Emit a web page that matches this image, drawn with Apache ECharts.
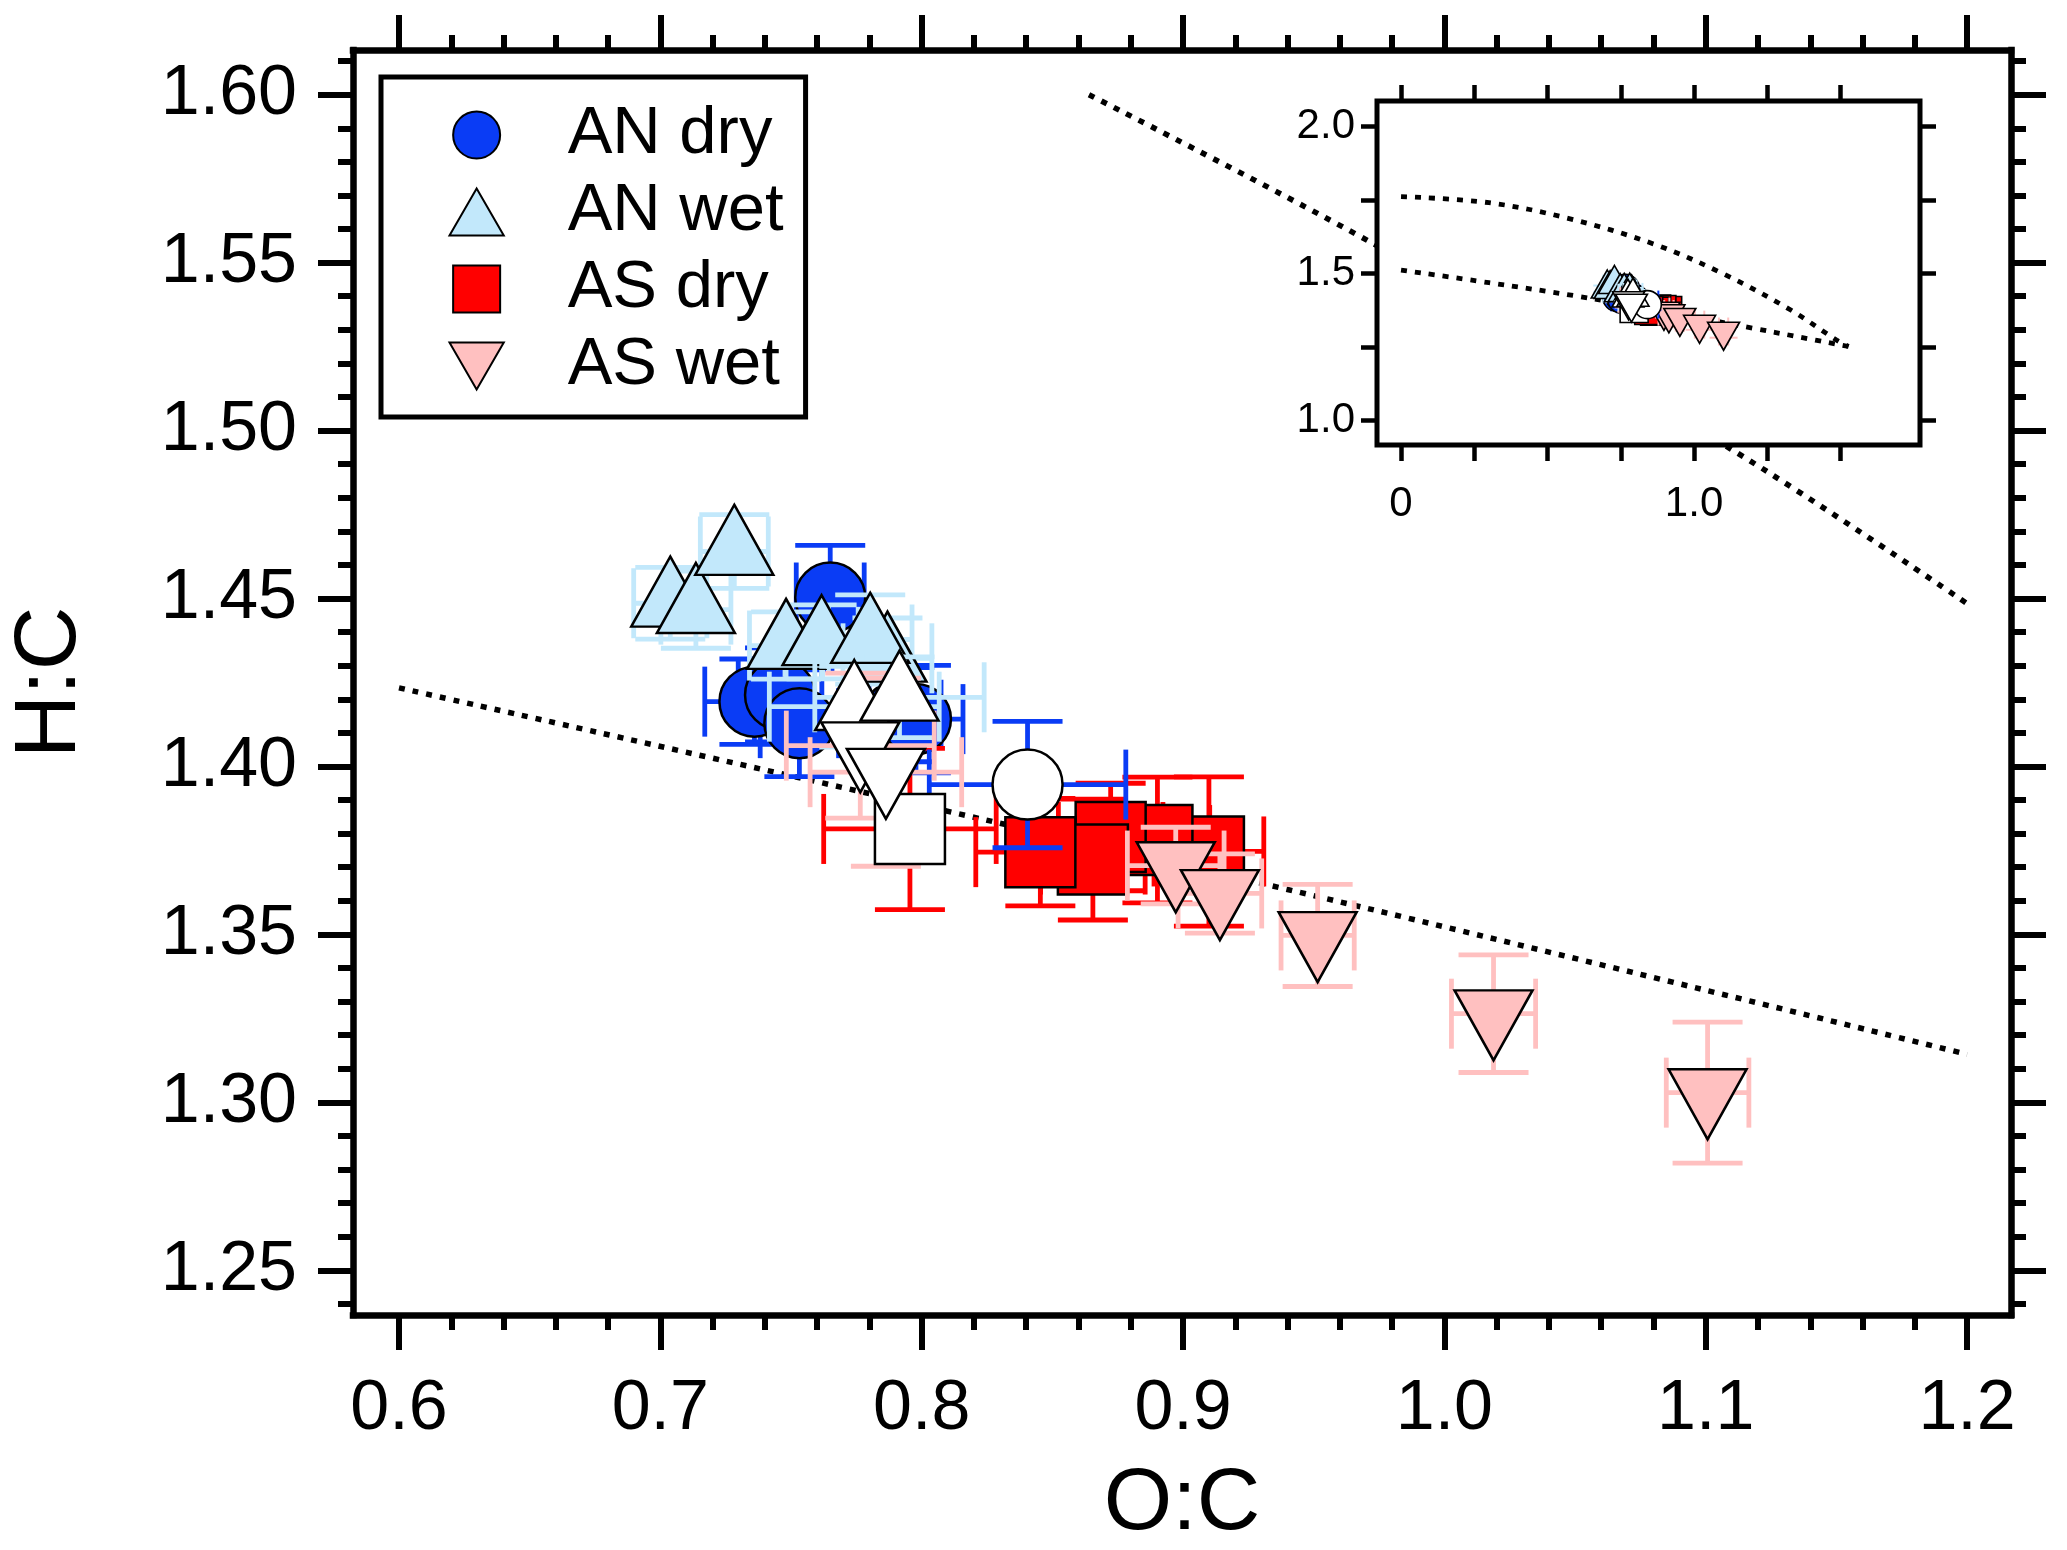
<!DOCTYPE html>
<html><head><meta charset="utf-8">
<script src="https://cdn.jsdelivr.net/npm/echarts@6/dist/echarts.min.js"></script>
<style>html,body{margin:0;padding:0;background:#fff}#c{width:2067px;height:1550px}</style>
</head><body><div id="c"></div>
<script>
// each point: [O:C, H:C, O:C error, H:C error]
const anDry = [[0.7360,1.4193,0.019,0.0127],[0.7458,1.4213,0.016,0.014],[0.7532,1.4129,0.015,0.0159],[0.7650,1.4503,0.013,0.0155],[0.7914,1.4154,0.016,0.014],[0.7978,1.4141,0.018,0.016]];
const anWet = [[0.7038,1.4486,0.014,0.0107],[0.7136,1.4467,0.0134,0.0115],[0.7283,1.4640,0.013,0.011],[0.7481,1.4360,0.014,0.010],[0.7617,1.4371,0.014,0.011],[0.7869,1.4322,0.017,0.012],[0.7803,1.4378,0.016,0.0133]];
const asDry = [[0.9099,1.3747,0.021,0.0222],[0.8902,1.3781,0.02,0.0187],[0.8723,1.3790,0.02,0.016],[0.8655,1.3723,0.02,0.018],[0.8454,1.3745,0.0247,0.016]];
const asWet = [[0.8972,1.3705,0.0185,0.0114],[0.9141,1.3622,0.016,0.0118],[0.9515,1.3497,0.014,0.0152],[1.0188,1.3264,0.0161,0.0175],[1.1007,1.3029,0.0158,0.021]];
// open (white) markers
const anDryOpen = [[0.8405,1.3946,0.0376,0.0188]];
const anWetOpen = [[0.7742,1.4178,0.0325,0.012],[0.7915,1.4206,0.0324,0.012]];
const asDryOpen = [[0.7955,1.3814,0.033,0.024]];
const asWetOpen = [[0.7765,1.4062,0.0283,0.0216],[0.7863,1.3983,0.029,0.028]];
// dotted reference curves
const mainLower = [[0.6,1.4234],[0.93,1.3652],[1.2,1.3143]];
const mainUpper = [[0.864,1.600],[0.972,1.556],[1.109,1.4948],[1.2,1.4485]];
const insetUpper = [[0,1.762],[0.3,1.741],[0.57,1.688],[0.864,1.600],[1.109,1.4948],[1.33,1.376],[1.486,1.274],[1.527,1.252]];
const insetLower = [[0,1.512],[0.3,1.469],[0.6,1.4234],[0.93,1.3652],[1.2,1.3143],[1.35,1.286],[1.527,1.252]];
// ticks
const xMajor = [0.6,0.7,0.8,0.9,1.0,1.1,1.2];
const yMajor = [1.25,1.30,1.35,1.40,1.45,1.50,1.55,1.60];
const insetXTicks = [0,0.25,0.5,0.75,1.0,1.25,1.5];
const insetXLabels = [0,1.0];
const insetYTicks = [1.0,1.25,1.5,1.75,2.0];
const insetYLabels = [1.0,1.5,2.0];

const X_RANGE = [0.5824,1.2168], Y_RANGE = [1.2367,1.6133];
const IX_RANGE = [-0.082,1.771], IY_RANGE = [0.917,2.087];
function minors(lo, hi, step, majors){
  const out=[]; const n0=Math.ceil(lo/step-1e-9), n1=Math.floor(hi/step+1e-9);
  for(let i=n0;i<=n1;i++){const v=+(i*step).toFixed(4); if(!majors.some(m=>Math.abs(m-v)<1e-6)) out.push(v);}
  return out;
}
const xMinor = minors(X_RANGE[0],X_RANGE[1],0.02,xMajor);
const yMinor = minors(Y_RANGE[0],Y_RANGE[1],0.01,yMajor);

const FONT = '"Liberation Sans", Arial, Helvetica, sans-serif';
const C = {blue:'#0A3CF5', lblue:'#C2E8FB', red:'#FF0000', pink:'#FFC0C0', open:'#FFFFFF'};
const UP = 'path://M1,0L2,1.732L0,1.732Z';
const DOWN = 'path://M0,0L2,0L1,1.732Z';
const SQUARE = 'path://M0,0L1,0L1,1L0,1Z';

function axisX(opt){
  return Object.assign({type:'value', min:X_RANGE[0], max:X_RANGE[1], gridIndex:0, splitLine:{show:false}, z:1,
    axisLine:{show:false, onZero:false}, axisLabel:{show:false}, axisTick:{show:false}}, opt);
}
function axisY(opt){
  return Object.assign({type:'value', min:Y_RANGE[0], max:Y_RANGE[1], gridIndex:0, splitLine:{show:false}, z:1,
    axisLine:{show:false, onZero:false}, axisLabel:{show:false}, axisTick:{show:false}}, opt);
}
const frameLine = {show:true, onZero:false, lineStyle:{color:'#000', width:6.5, cap:'square'}};
const majTick = vals => ({show:true, inside:false, length:35, customValues:vals, lineStyle:{color:'#000', width:6}});
const minTick = vals => ({show:true, inside:false, length:15, customValues:vals, lineStyle:{color:'#000', width:6}});
const insetTick = vals => ({show:true, inside:false, length:16, customValues:vals, lineStyle:{color:'#000', width:4.5}});

const xAxes = [
  axisX({position:'bottom', axisLine:frameLine, axisTick:majTick(xMajor),
    axisLabel:{show:true, customValues:xMajor, formatter:v=>(+v).toFixed(1), fontSize:70, fontFamily:FONT, color:'#000', margin:60},
    name:'O:C', nameLocation:'middle', nameGap:146, nameTextStyle:{fontSize:88, fontFamily:FONT, color:'#000'}}),
  axisX({position:'bottom', axisTick:minTick(xMinor)}),
  axisX({position:'top', axisLine:frameLine, axisTick:majTick(xMajor)}),
  axisX({position:'top', axisTick:minTick(xMinor)}),
  {type:'value', gridIndex:1, position:'bottom', min:IX_RANGE[0], max:IX_RANGE[1], z:21, splitLine:{show:false},
    axisLine:{show:false, onZero:false}, axisTick:insetTick(insetXTicks),
    axisLabel:{show:true, customValues:insetXLabels, formatter:v=>(+v===0?'0':(+v).toFixed(1)), fontSize:42, fontFamily:FONT, color:'#000', margin:38}},
  {type:'value', gridIndex:1, position:'top', min:IX_RANGE[0], max:IX_RANGE[1], z:21, splitLine:{show:false},
    axisLine:{show:false, onZero:false}, axisTick:insetTick(insetXTicks), axisLabel:{show:false}}
];
const yAxes = [
  axisY({position:'left', axisLine:frameLine, axisTick:majTick(yMajor),
    axisLabel:{show:true, customValues:yMajor, formatter:v=>(+v).toFixed(2), fontSize:70, fontFamily:FONT, color:'#000', margin:56},
    name:'H:C', nameLocation:'middle', nameGap:258, nameTextStyle:{fontSize:88, fontFamily:FONT, color:'#000'}}),
  axisY({position:'left', axisTick:minTick(yMinor)}),
  axisY({position:'right', axisLine:frameLine, axisTick:majTick(yMajor)}),
  axisY({position:'right', axisTick:minTick(yMinor)}),
  {type:'value', gridIndex:1, position:'left', min:IY_RANGE[0], max:IY_RANGE[1], z:21, splitLine:{show:false},
    axisLine:{show:false, onZero:false}, axisTick:insetTick(insetYTicks),
    axisLabel:{show:true, customValues:insetYLabels, formatter:v=>(+v).toFixed(1), fontSize:42, fontFamily:FONT, color:'#000', margin:22}},
  {type:'value', gridIndex:1, position:'right', min:IY_RANGE[0], max:IY_RANGE[1], z:21, splitLine:{show:false},
    axisLine:{show:false, onZero:false}, axisTick:insetTick(insetYTicks), axisLabel:{show:false}}
];

function errSeries(data, color, ai, cap, lw, z){
  return {type:'custom', xAxisIndex:ai, yAxisIndex:ai, z:z, silent:true, clip:false,
    dimensions:['x','y','ex','ey'], encode:{x:0, y:1}, data:data,
    renderItem:function(params, api){
      const x=api.value(0), y=api.value(1), ex=api.value(2), ey=api.value(3);
      const L=api.coord([x-ex,y]), R=api.coord([x+ex,y]), T=api.coord([x,y+ey]), B=api.coord([x,y-ey]);
      const st={stroke:color, lineWidth:lw, fill:null};
      const ln=(a,b,c,d)=>({type:'line', shape:{x1:a,y1:b,x2:c,y2:d}, style:st});
      return {type:'group', children:[
        ln(L[0],L[1],R[0],R[1]), ln(T[0],T[1],B[0],B[1]),
        ln(L[0],L[1]-cap,L[0],L[1]+cap), ln(R[0],R[1]-cap,R[0],R[1]+cap),
        ln(T[0]-cap,T[1],T[0]+cap,T[1]), ln(B[0]-cap,B[1],B[0]+cap,B[1])
      ]};
    }};
}
function ptSeries(name, data, shape, fill, ai, z, inset){
  const s = inset ? 28 : 70, tw = inset ? 32 : 78;
  let symbol='circle', size=s, offset=[0,0];
  if(shape==='square'){symbol=SQUARE;}
  if(shape==='up'){symbol=UP; size=[tw,s]; offset=[0,-s/6];}
  if(shape==='down'){symbol=DOWN; size=[tw,s]; offset=[0,s/6];}
  return {name:name, type:'scatter', xAxisIndex:ai, yAxisIndex:ai, z:z, silent:true,
    data:data.map(d=>[d[0],d[1]]), symbol:symbol, symbolSize:size, symbolOffset:offset, symbolKeepAspect:false,
    itemStyle:{color:fill, borderColor:'#000', borderWidth:inset?1.6:2.5, opacity:1},
    emphasis:{disabled:true}};
}
function lineSeries(data, ai, z, w){
  return {type:'line', xAxisIndex:ai, yAxisIndex:ai, z:z, silent:true, data:data, symbol:'none', smooth:0.35,
    lineStyle:{color:'#000', width:w, type:[6,8], cap:'butt'}, emphasis:{disabled:true}};
}

function groupSeries(ai, inset, zb){
  const cap = inset ? 14 : 35, lw = inset ? 2 : 4.8;
  const sfx = inset ? ' ' : '';
  return [
    errSeries(anDry, C.blue, ai, cap, lw, zb+1), ptSeries('AN dry'+sfx, anDry, 'circle', C.blue, ai, zb+1, inset),
    errSeries(anWet, C.lblue, ai, cap, lw, zb+2), ptSeries('AN wet'+sfx, anWet, 'up', C.lblue, ai, zb+2, inset),
    errSeries(asDry, C.red, ai, cap, lw, zb+3), ptSeries('AS dry'+sfx, asDry, 'square', C.red, ai, zb+3, inset),
    errSeries(asWet, C.pink, ai, cap, lw, zb+4), ptSeries('AS wet'+sfx, asWet, 'down', C.pink, ai, zb+4, inset),
    errSeries(asDryOpen, C.red, ai, cap, lw, zb+5), errSeries(anDryOpen, C.blue, ai, cap, lw, zb+5),
    errSeries(anWetOpen, C.lblue, ai, cap, lw, zb+5), errSeries(asWetOpen, C.pink, ai, cap, lw, zb+5),
    ptSeries('open AS dry'+sfx, asDryOpen, 'square', C.open, ai, zb+6, inset),
    ptSeries('open AN dry'+sfx, anDryOpen, 'circle', C.open, ai, zb+6, inset),
    ptSeries('open AN wet'+sfx, anWetOpen, 'up', C.open, ai, zb+6, inset),
    ptSeries('open AS wet'+sfx, asWetOpen, 'down', C.open, ai, zb+7, inset)
  ];
}

const series = [].concat(
  [lineSeries(mainLower, 0, 1, 5.5), lineSeries(mainUpper, 0, 1, 5.5)],
  groupSeries(0, false, 1),
  [lineSeries(insetUpper, 4, 22, 4.8), lineSeries(insetLower, 4, 22, 4.8)],
  groupSeries(4, true, 22)
);

const chart = echarts.init(document.getElementById('c'), null, {renderer:'canvas'});
chart.setOption({
  animation:false,
  backgroundColor:'#fff',
  textStyle:{fontFamily:FONT},
  grid:[
    {left:353, right:56, top:50, bottom:235, show:false, containLabel:false, outerBoundsMode:'none'},
    {left:1377, top:101, width:543, height:344, show:true, backgroundColor:'#fff', borderColor:'#000', borderWidth:5, z:20, containLabel:false, outerBoundsMode:'none'}
  ],
  xAxis:xAxes,
  yAxis:yAxes,
  legend:{data:['AN dry','AN wet','AS dry','AS wet'], orient:'vertical', left:381, top:77,
    padding:[22,22,15,67.5], itemWidth:172, itemHeight:47, itemGap:5, symbolKeepAspect:true,
    borderColor:'#000', borderWidth:5, backgroundColor:'#fff', selectedMode:false, z:30,
    itemStyle:{borderColor:'#000', borderWidth:2},
    textStyle:{fontSize:67, fontFamily:FONT, color:'#000', lineHeight:72}},
  series:series
});
</script></body></html>
